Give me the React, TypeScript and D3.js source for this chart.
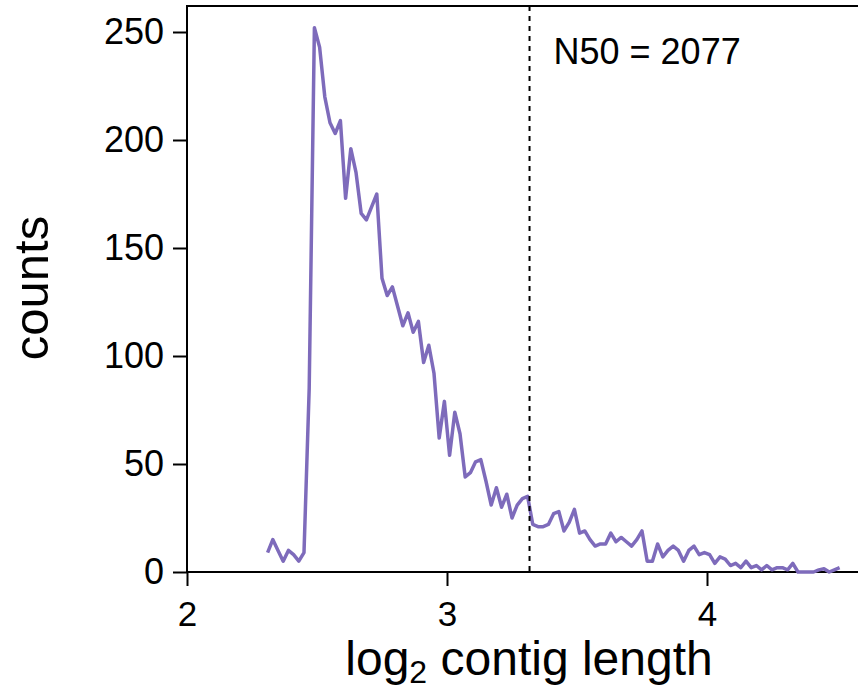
import React, { useEffect, useRef } from "react";
import * as d3 from "d3";

// histogram of log10 contig lengths, bins 0.02 wide starting at 2.31
const binStart = 2.31;
const binWidth = 0.02;
const counts = [
  9, 15, 10, 5, 10, 8, 5, 9, 85, 252,
  243, 220, 208, 203, 209, 173, 196, 185, 166, 163,
  169, 175, 136, 128, 132, 123, 114, 120, 111, 116,
  97, 105, 92, 62, 79, 54, 74, 64, 44, 46,
  51, 52, 42, 31, 39, 30, 36, 25, 31, 34,
  35, 22, 21, 21, 22, 27, 28, 19, 23, 29,
  18, 19, 15, 12, 13, 13, 18, 14, 16, 14,
  12, 15, 19, 5, 5, 13, 7, 10, 12, 10,
  5, 10, 12, 8, 9, 8, 4, 7, 6, 3,
  4, 2, 5, 2, 3, 1, 3, 1, 2, 2,
  1, 4, 0, 0, 0, 0, 1, 1.5, 0, 1,
  2,
];
const n50 = 2077;
const xTicks = [2, 3, 4];
const yTicks = [0, 50, 100, 150, 200, 250];

const App = () => {
  const ref = useRef<SVGSVGElement>(null);
  const width = 858;
  const height = 689;
  const margin = { top: 6, bottom: 117, left: 187, right: 0 };
  const font = "'Liberation Sans', Arial, sans-serif";

  useEffect(() => {
    const svg = d3.select(ref.current);
    svg.selectAll("*").remove();

    const xScale = d3
      .scaleLinear()
      .domain([2, 2 + (width - margin.left) / 260])
      .range([margin.left, width - margin.right]);

    const yScale = d3
      .scaleLinear()
      .domain([0, 250])
      .range([height - margin.bottom, 32]);

    const yAxis = (g) => {
      g.attr("transform", `translate(${margin.left},0)`)
        .call(d3.axisLeft(yScale).tickValues(yTicks).tickSize(14).tickPadding(9).tickSizeOuter(0))
        .attr("font-size", 36)
        .attr("font-family", font);
      g.select(".domain").remove();
      g.selectAll(".tick line").attr("stroke-width", 2);
    };
    const xAxis = (g) => {
      g.attr("transform", `translate(0,${height - margin.bottom})`)
        .call(
          d3
            .axisBottom(xScale)
            .tickValues(xTicks)
            .tickFormat(d3.format("d"))
            .tickSize(14)
            .tickPadding(15)
            .tickSizeOuter(0)
        )
        .attr("font-size", 35)
        .attr("font-family", font);
      g.select(".domain").remove();
      g.selectAll(".tick line").attr("stroke-width", 2);
    };
    svg.append("g").call(yAxis);
    svg.append("g").call(xAxis);

    // frame
    svg
      .append("rect")
      .attr("x", margin.left)
      .attr("y", margin.top)
      .attr("width", width - margin.left + 10)
      .attr("height", height - margin.bottom - margin.top)
      .attr("fill", "none")
      .attr("stroke", "#000")
      .attr("stroke-width", 2);

    const line = d3
      .line<number>()
      .x((d, i) => xScale(binStart + i * binWidth))
      .y((d) => yScale(d));

    svg
      .append("path")
      .datum(counts)
      .attr("fill", "none")
      .attr("stroke", "#7e6bbb")
      .attr("stroke-width", 3.5)
      .attr("stroke-linejoin", "round")
      .attr("d", line);

    const nx = xScale(Math.log10(n50));
    svg
      .append("line")
      .attr("x1", nx)
      .attr("x2", nx)
      .attr("y1", margin.top)
      .attr("y2", height - margin.bottom)
      .attr("stroke", "#000")
      .attr("stroke-width", 2)
      .attr("stroke-dasharray", "5,5");

    svg
      .append("text")
      .attr("x", nx + 24)
      .attr("y", 64)
      .attr("font-size", 36)
      .attr("font-family", font)
      .text(`N50 = ${n50}`);

    const xt = svg
      .append("text")
      .attr("x", 529)
      .attr("y", 675)
      .attr("text-anchor", "middle")
      .attr("font-size", 48)
      .attr("font-family", font);
    xt.append("tspan").text("log");
    xt.append("tspan").attr("font-size", 32).attr("dy", 8).text("2");
    xt.append("tspan").attr("dy", -8).text(" contig length");

    svg
      .append("text")
      .attr("transform", `translate(48,${288}) rotate(-90)`)
      .attr("text-anchor", "middle")
      .attr("font-size", 49)
      .attr("font-family", font)
      .text("counts");
  });

  return (
    <svg
      ref={ref}
      width={width}
      height={height}
      style={{ position: "absolute", left: 0, top: 0, background: "#fff" }}
    ></svg>
  );
};

export default App;
